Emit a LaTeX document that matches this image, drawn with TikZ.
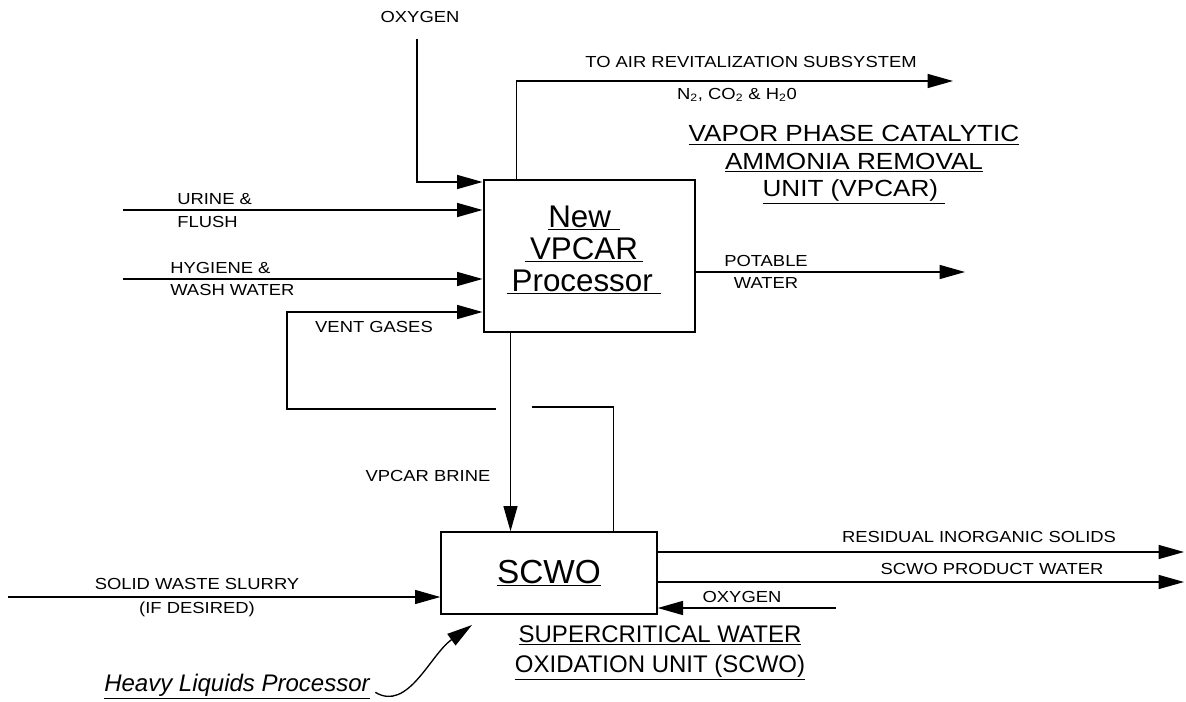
\documentclass[tikz,border=0pt]{standalone}
\usepackage{fontspec}
\setmainfont{Liberation Sans}
\usetikzlibrary{arrows.meta,positioning}

\begin{document}
\begin{tikzpicture}[x=0.75pt,y=-0.75pt,
  flow/.style={-{Triangle[length=19pt,width=10.5pt]},line width=1pt},
  pipe/.style={line width=1pt},
  unit/.style={draw,line width=1.5pt,inner sep=0pt},
  lbl/.style={font=\fontsize{12}{17}\selectfont,inner sep=0pt,align=left,xscale=1.15},
  boxtext/.style={font=\fontsize{23.5}{24}\selectfont,inner sep=0pt,align=center},
  title/.style={font=\fontsize{18}{22.5}\selectfont,inner sep=0pt,align=center}
]
\useasboundingbox (0,0) rectangle (1186,702);

% process units
\node[unit,minimum width=158.25pt,minimum height=114pt] (vpcar) at (589,256) {};
\node[boxtext] (vpcarname) at (584,250) {\underline{New\ }\\\underline{\,VPCAR\,}\\\underline{\,Processor\ }};
\node[unit,line width=1pt,minimum width=162pt,minimum height=61.5pt] (scwo) at (549,573) {};
\node[boxtext,font=\fontsize{25}{25}\selectfont] (scwoname) at (549,573) {\underline{SCWO}};

% titles
\node[title,font=\fontsize{17.5}{20.6}\selectfont,xscale=1.12] (vpcartitle) at (854,165) {\underline{VAPOR PHASE CATALYTIC}\\\underline{AMMONIA REMOVAL}\\\underline{UNIT (VPCAR)\ }};
\node[title] (scwotitle) at (660,653) {\underline{SUPERCRITICAL WATER}\\\underline{OXIDATION UNIT (SCWO)}};
\node[title,font=\fontsize{18}{21}\itshape] (hlp) at (237,687) {\underline{Heavy Liquids Processor}};

% labels
\node[lbl] (oxytop) at (420,17) {OXYGEN};
\node[lbl] (airlbl) at (751,62) {TO AIR REVITALIZATION SUBSYSTEM};
\node[lbl] (gaslbl) at (737,95) {N\textsubscript{2}, CO\textsubscript{2} \& H\textsubscript{2}0};
\node[lbl,anchor=west,font=\fontsize{12}{17.25}\selectfont] (urinelbl) at (177,211) {URINE \&\\FLUSH};
\node[lbl,anchor=west,font=\fontsize{12}{16.5}\selectfont] (hygienelbl) at (170,279) {HYGIENE \&\\WASH WATER};
\node[lbl] (ventlbl) at (374,327) {VENT GASES};
\node[lbl,align=center,font=\fontsize{12}{16.5}\selectfont] (potablelbl) at (766,272) {POTABLE\\WATER};
\node[lbl] (brinelbl) at (428,476) {VPCAR BRINE};
\node[lbl,align=center,font=\fontsize{12}{18}\selectfont] (slurrylbl) at (197,598) {SOLID WASTE SLURRY\\(IF DESIRED)};
\node[lbl] (solidslbl) at (979,537) {RESIDUAL INORGANIC SOLIDS};
\node[lbl] (waterlbl) at (992,569) {SCWO PRODUCT WATER};
\node[lbl] (oxylbl) at (742,597) {OXYGEN};

% connector ends
\coordinate (oxystart) at (417,39);
\coordinate (airend) at (953,81);
\coordinate (urinestart) at (123,210);
\coordinate (hygienestart) at (123,279);
\coordinate (ventcorner) at (287,312);
\coordinate (ventgapl) at (496,409);
\coordinate (ventgapr) at (532,407);
\coordinate (potend) at (965,272);
\coordinate (brine) at ([xshift=21pt]vpcar.south west);
\coordinate (slurrystart) at (8,597);
\coordinate (solidsend) at (1184,552);
\coordinate (waterend) at (1184,582);
\coordinate (oxy2start) at (836,608);
\coordinate (hlptip) at (472,625);

% VPCAR streams
\draw[flow] (oxystart) |- ([yshift=-2.25pt]vpcar.north west);
\draw[flow] ([xshift=25.5pt]vpcar.north west) |- (airend);
\draw[flow] (urinestart) -- (urinestart -| vpcar.west);
\draw[flow] (hygienestart) -- (hygienestart -| vpcar.west);
\draw[flow] (ventgapl) -| (ventcorner) -- (ventcorner -| vpcar.west);
\draw[flow] (vpcar.east |- potend) -- (potend);
\draw[flow] (brine) -- (brine |- scwo.north);

% SCWO streams
\draw[pipe] ([xshift=129.75pt]scwo.north west) |- (ventgapr);
\draw[flow] (slurrystart) -- (slurrystart -| scwo.west);
\draw[flow] (scwo.east |- solidsend) -- (solidsend);
\draw[flow] (scwo.east |- waterend) -- (waterend);
\draw[flow] (oxy2start) -- (oxy2start -| scwo.east);
\draw[flow] ([xshift=4pt,yshift=-4pt]hlp.east) .. controls (408,712) and (430,655) .. (hlptip);
\end{tikzpicture}
\end{document}
